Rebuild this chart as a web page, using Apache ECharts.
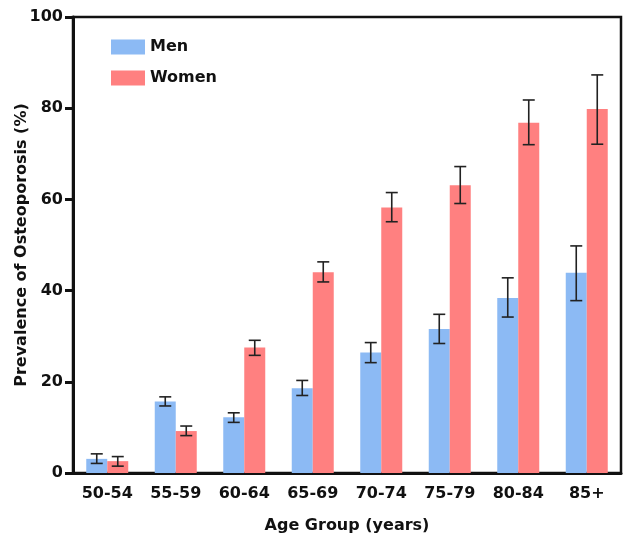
<!DOCTYPE html>
<html>
<head>
<meta charset="utf-8">
<script src="https://cdn.jsdelivr.net/npm/echarts@6/dist/echarts.min.js"></script>
<style>html,body{margin:0;padding:0;background:#fff;}#c{width:640px;height:548px;}</style>
</head>
<body>
<div id="c"></div>
<script>
var categories = ['50-54','55-59','60-64','65-69','70-74','75-79','80-84','85+'];
var menValues = [3.1, 15.7, 12.2, 18.6, 26.4, 31.6, 38.4, 43.9];
var menLow = [2.1, 14.7, 11.1, 17.0, 24.2, 28.4, 34.2, 37.8];
var menHigh = [4.2, 16.7, 13.2, 20.3, 28.6, 34.8, 42.8, 49.8];
var womenValues = [2.6, 9.2, 27.5, 44.0, 58.2, 63.1, 76.8, 79.8];
var womenLow = [1.5, 8.2, 25.8, 41.9, 55.1, 59.1, 72.0, 72.1];
var womenHigh = [3.6, 10.3, 29.1, 46.3, 61.5, 67.2, 81.8, 87.3];
var yTicks = [0, 20, 40, 60, 80, 100];

var BAR_W = 21;
var FONT = 'DejaVu Sans, Liberation Sans, Arial, sans-serif';

function errData(low, high) {
  return categories.map(function (c, i) { return [i, low[i], high[i]]; });
}
function errSeries(name, low, high, offset) {
  return {
    type: 'custom',
    name: name + ' err',
    z: 10,
    silent: true,
    data: errData(low, high),
    encode: { x: 0, y: [1, 2] },
    renderItem: function (params, api) {
      var i = api.value(0);
      var lo = api.coord([i, api.value(1)]);
      var hi = api.coord([i, api.value(2)]);
      var x = lo[0] + offset;
      var cap = 6;
      var st = { stroke: '#222', lineWidth: 1.6 };
      return {
        type: 'group',
        children: [
          { type: 'line', shape: { x1: x, y1: lo[1], x2: x, y2: hi[1] }, style: st },
          { type: 'line', shape: { x1: x - cap, y1: lo[1], x2: x + cap, y2: lo[1] }, style: st },
          { type: 'line', shape: { x1: x - cap, y1: hi[1], x2: x + cap, y2: hi[1] }, style: st }
        ]
      };
    }
  };
}

var chart = echarts.init(document.getElementById('c'));
chart.setOption({
  animation: false,
  backgroundColor: '#fff',
  grid: { left: 73, right: 19, top: 17, bottom: 75, outerBoundsMode: 'none', containLabel: false, show: true, borderColor: '#111', borderWidth: 2.5, backgroundColor: 'transparent' },
  legend: {
    orient: 'vertical', left: 106, top: 34, itemWidth: 34, itemHeight: 15, itemGap: 15,
    data: ['Men', 'Women'],
    textStyle: { fontFamily: FONT, fontWeight: 'bold', fontSize: 16, color: '#111' },
    icon: 'rect'
  },
  xAxis: {
    type: 'category', data: categories,
    name: 'Age Group (years)', nameLocation: 'middle', nameGap: 45, nameMoveOverlap: false,
    nameTextStyle: { fontFamily: FONT, fontWeight: 'bold', fontSize: 16, color: '#111' },
    axisLine: { lineStyle: { color: '#111', width: 3 } },
    axisTick: { alignWithLabel: true, length: 9, lineStyle: { color: '#111', width: 3 } },
    axisLabel: { fontFamily: FONT, fontWeight: 'bold', fontSize: 16, color: '#111', margin: 13 },
    splitLine: { show: false }
  },
  yAxis: {
    type: 'value', min: yTicks[0], max: yTicks[yTicks.length - 1], interval: 20,
    name: 'Prevalence of Osteoporosis (%)', nameLocation: 'middle', nameGap: 43, nameMoveOverlap: false,
    nameTextStyle: { fontFamily: FONT, fontWeight: 'bold', fontSize: 16, color: '#111' },
    axisLine: { show: true, lineStyle: { color: '#111', width: 3 } },
    axisTick: { show: true, length: 8, lineStyle: { color: '#111', width: 3 } },
    axisLabel: { fontFamily: FONT, fontWeight: 'bold', fontSize: 16, color: '#111', margin: 10 },
    splitLine: { show: false }
  },
  series: [
    { type: 'bar', name: 'Men', data: menValues, barWidth: BAR_W, barGap: '0%', itemStyle: { color: '#8cbaf4' } },
    { type: 'bar', name: 'Women', data: womenValues, barWidth: BAR_W, barGap: '0%', itemStyle: { color: '#ff8080' } },
    errSeries('Men', menLow, menHigh, -BAR_W / 2),
    errSeries('Women', womenLow, womenHigh, BAR_W / 2)
  ]
});
</script>
</body>
</html>
